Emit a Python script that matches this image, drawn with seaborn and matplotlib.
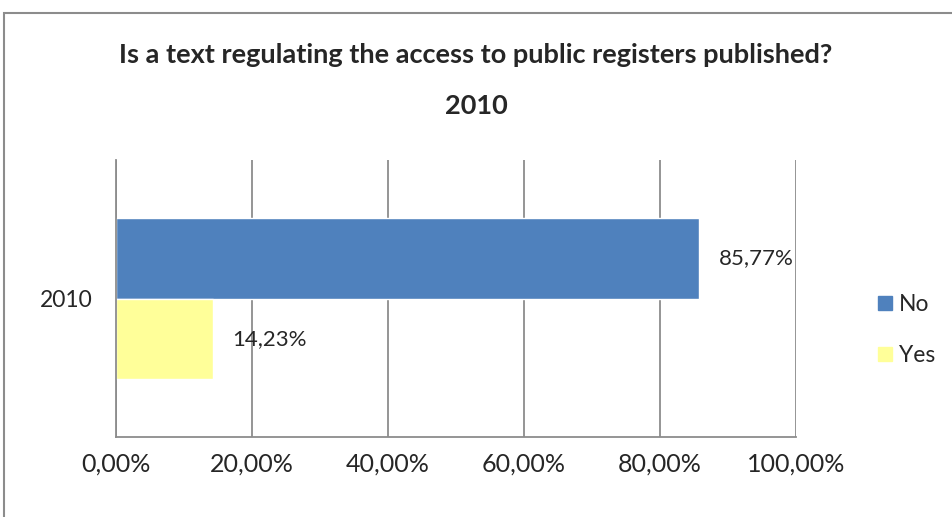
import pandas as pd
import numpy as np
import seaborn as sns
import matplotlib.pyplot as plt
import matplotlib.patches as mpatches
from matplotlib.ticker import FuncFormatter

# data
years = ['2010']
answers = ['No', 'Yes']
shares = [85.77, 14.23]
colors = ['#4f81bd', '#ffff99']

df = pd.DataFrame({'year': years * len(answers), 'answer': answers, 'share': shares})

sns.set_style('white')
plt.rcParams['font.family'] = ['Lato', 'DejaVu Sans']

fig = plt.figure(figsize=(9.52, 5.17), dpi=100)
ax = fig.add_axes([116 / 952, 80 / 517, 680 / 952, 277 / 517])

sns.barplot(data=df, y='year', x='share', hue='answer', hue_order=answers,
            palette=colors, saturation=1, orient='h', width=0.58, ax=ax, legend=False)

ax.set_xlim(0, 100)
ax.set_xticks(np.arange(0, 101, 20))
ax.xaxis.set_major_formatter(FuncFormatter(lambda v, p: f'{v:.2f}%'.replace('.', ',')))
ax.grid(axis='x', color='#8c8c8c', linewidth=1.3)
ax.set_axisbelow(True)
for s in ['top', 'right']:
    ax.spines[s].set_visible(False)
for s in ['left', 'bottom']:
    ax.spines[s].set_color('#8c8c8c')
    ax.spines[s].set_linewidth(1.3)
ax.tick_params(axis='x', length=0, pad=11, labelsize=18)
ax.tick_params(axis='y', length=0, pad=17, labelsize=16.5)
ax.set_xlabel('')
ax.set_ylabel('')

# value labels
for cont in ax.containers:
    ax.bar_label(cont, labels=[f'{v:.2f}%'.replace('.', ',') for v in cont.datavalues],
                 padding=14, fontsize=16)

fig.text(0.5, 1 - 55 / 517, 'Is a text regulating the access to public registers published?',
         ha='center', va='center', fontsize=19.5, fontweight='bold')
fig.text(0.5, 1 - 106 / 517, '2010', ha='center', va='center', fontsize=19.5, fontweight='bold')

handles = [mpatches.Patch(color=c, label=a) for a, c in zip(answers, colors)]
fig.legend(handles=handles, loc='center left', bbox_to_anchor=(878 / 952, 1 - 330 / 517),
           frameon=False, fontsize=16.5, handlelength=0.6, handleheight=0.6,
           handletextpad=0.3, labelspacing=1.3, borderpad=0, borderaxespad=0)

fig.patches.append(mpatches.Rectangle((4 / 952, -0.05), 1.0, 1 - 13 / 517 + 0.05,
                                      transform=fig.transFigure, fill=False,
                                      edgecolor='#8c8c8c', linewidth=1.5))

fig.savefig('out.png', dpi=100)
